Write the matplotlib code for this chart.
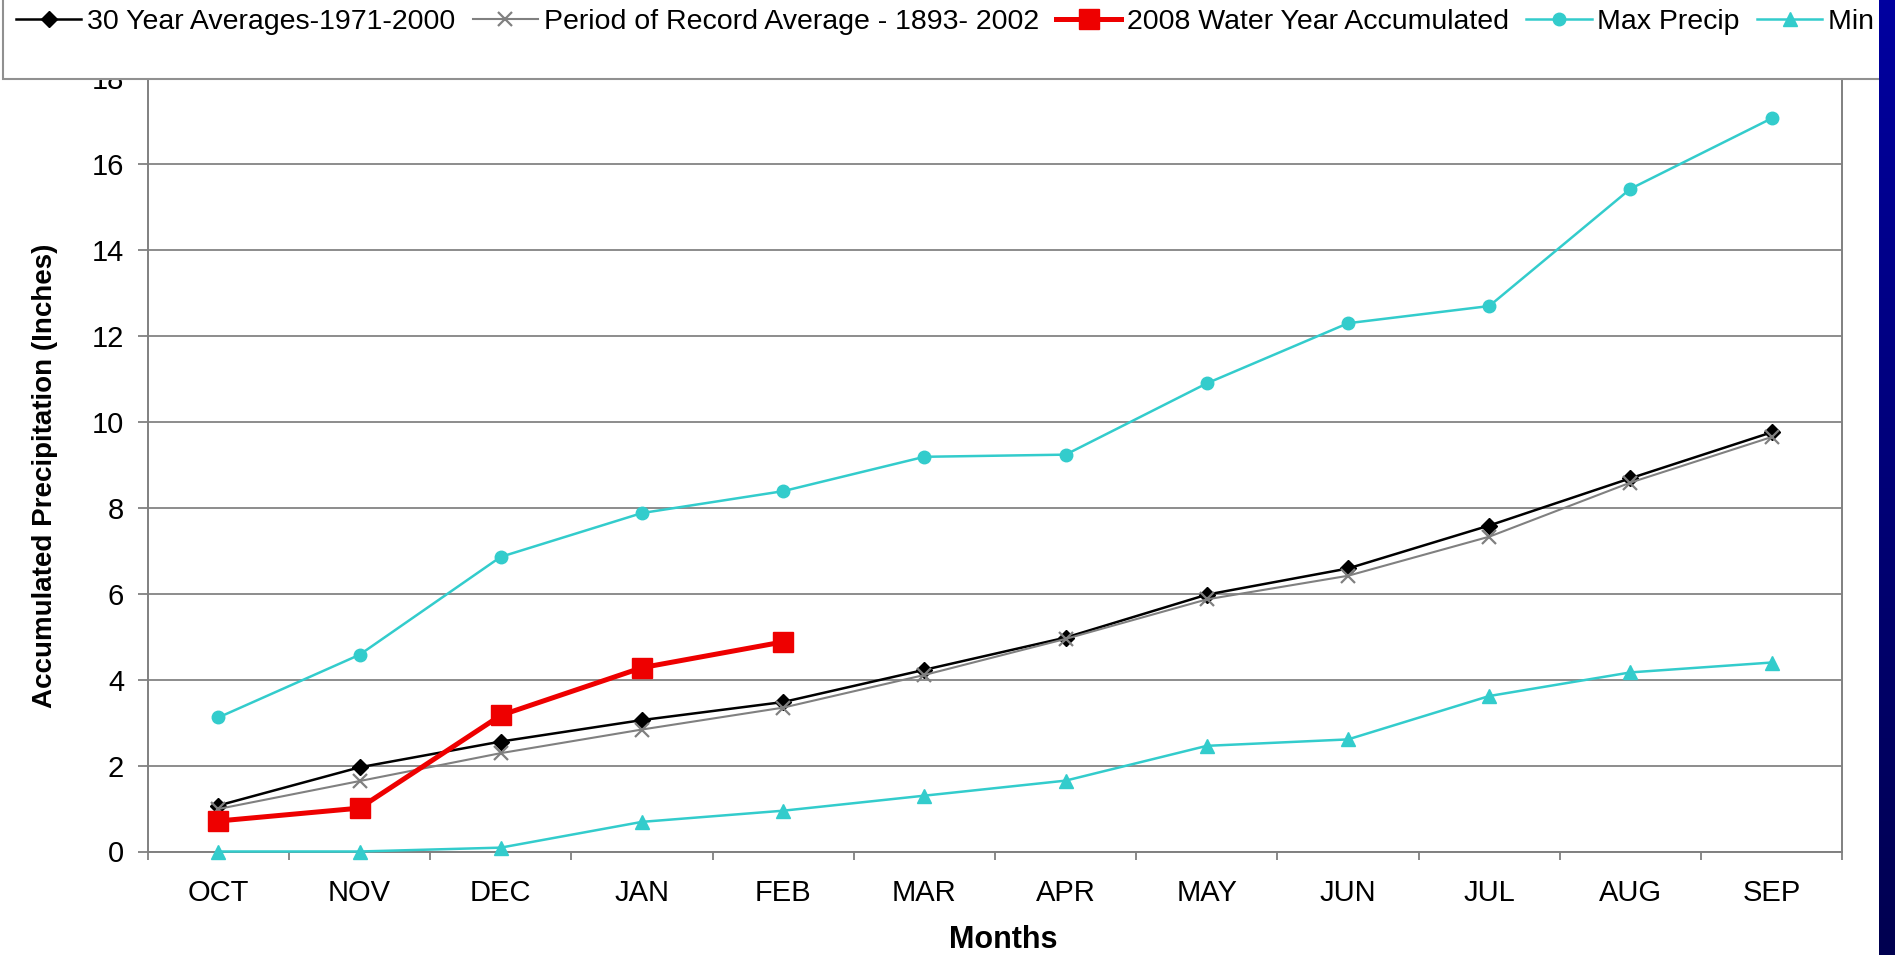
import numpy as np
import matplotlib
matplotlib.use("Agg")
import matplotlib.pyplot as plt
from matplotlib.patches import Rectangle
from matplotlib.colors import LinearSegmentedColormap

plt.rcParams["font.family"] = ["Liberation Sans", "DejaVu Sans"]

months = ["OCT", "NOV", "DEC", "JAN", "FEB", "MAR", "APR", "MAY", "JUN", "JUL", "AUG", "SEP"]
avg_30yr = [1.07, 1.96, 2.56, 3.06, 3.48, 4.23, 4.98, 5.98, 6.59, 7.59, 8.69, 9.76]
record_avg = [0.99, 1.64, 2.29, 2.84, 3.35, 4.11, 4.95, 5.87, 6.42, 7.33, 8.59, 9.65]
wy_2008 = [0.71, 1.01, 3.17, 4.28, 4.88]
max_precip = [3.12, 4.58, 6.86, 7.88, 8.39, 9.19, 9.24, 10.9, 12.3, 12.7, 15.43, 17.07]
min_precip = [0.0, 0.0, 0.09, 0.69, 0.95, 1.3, 1.65, 2.46, 2.61, 3.62, 4.17, 4.4]

labels = ["30 Year Averages-1971-2000", "Period of Record Average - 1893- 2002",
          "2008 Water Year Accumulated", "Max Precip", "Min Precip"]

W, H = 1895, 955
fig = plt.figure(figsize=(W / 100, H / 100), dpi=100)
ax = fig.add_axes([147.7 / W, 1 - 851.5 / H, (1842.3 - 147.7) / W, (851.5 - 78.4) / H])

x = np.arange(len(months))
cyan = "#33cccc"
ax.plot(x, avg_30yr, color="black", lw=1.8, marker="D", ms=8.5, label=labels[0], clip_on=False, zorder=3)
ax.plot(x, record_avg, color="#808080", lw=1.5, marker="x", ms=10, mew=1.6, label=labels[1], clip_on=False, zorder=3)
ax.plot(x[:len(wy_2008)], wy_2008, color="#ee0000", lw=3.6, marker="s", ms=15, label=labels[2], clip_on=False, zorder=4)
ax.plot(x, max_precip, color=cyan, lw=1.8, marker="o", ms=9, label=labels[3], clip_on=False, zorder=3)
ax.plot(x, min_precip, color=cyan, lw=1.8, marker="^", ms=10, label=labels[4], clip_on=False, zorder=3)

ax.set_xlim(-0.5, 11.5)
ax.set_ylim(0, 18)
ax.set_yticks(range(0, 19, 2))
ax.grid(axis="y", color="#8c8c8c", lw=1.4)
ax.set_axisbelow(True)
ax.set_xticks(x)
ax.set_xticklabels(months)
ax.set_xticks(np.arange(-0.5, 12, 1), minor=True)
ax.tick_params(axis="x", which="major", length=0, pad=20, labelsize=21)
ax.tick_params(axis="x", which="minor", length=6, width=1.3, color="#808080")
ax.tick_params(axis="y", length=7, width=1.3, color="#808080", pad=10, labelsize=21)
for s in ["left", "bottom", "right"]:
    ax.spines[s].set_color("#808080")
    ax.spines[s].set_linewidth(1.4)
ax.spines["top"].set_visible(False)

ax.set_ylabel("Accumulated Precipitation (Inches)", fontsize=20, fontweight="bold", va="center")
ax.yaxis.set_label_coords((45 - 147.7) / 1694.6, (851.5 - 476) / 773.1)
ax.set_xlabel("Months", fontsize=22, fontweight="bold", va="center")
ax.xaxis.set_label_coords((1003 - 147.7) / 1694.6, (851.5 - 940) / 773.1)

# legend box sits over the top of the plot
fig.add_artist(Rectangle((2.7 / W, 1 - 79.3 / H), 1.2, 0.3, transform=fig.transFigure,
                         fc="white", ec="#909090", lw=1.5, zorder=4))
handles, labs = ax.get_legend_handles_labels()
leg = fig.legend(handles, labs, loc="center left", bbox_to_anchor=(16 / W, 1 - 22 / H), ncol=5,
                 frameon=False, fontsize=20.5, handlelength=2.3, handletextpad=0.2,
                 columnspacing=0.6, borderpad=0, borderaxespad=0)
leg.set_zorder(5)

# blue slide border on the right
bax = fig.add_axes([1879 / W, 0, 1 - 1879 / W, 1])
grad = np.linspace(0, 1, 256).reshape(-1, 1)
bax.imshow(grad, aspect="auto", cmap=LinearSegmentedColormap.from_list("edge", ["#0000a0", "#000050"]))
bax.axis("off")
bax.set_zorder(10)

fig.savefig("out.png", dpi=100)
